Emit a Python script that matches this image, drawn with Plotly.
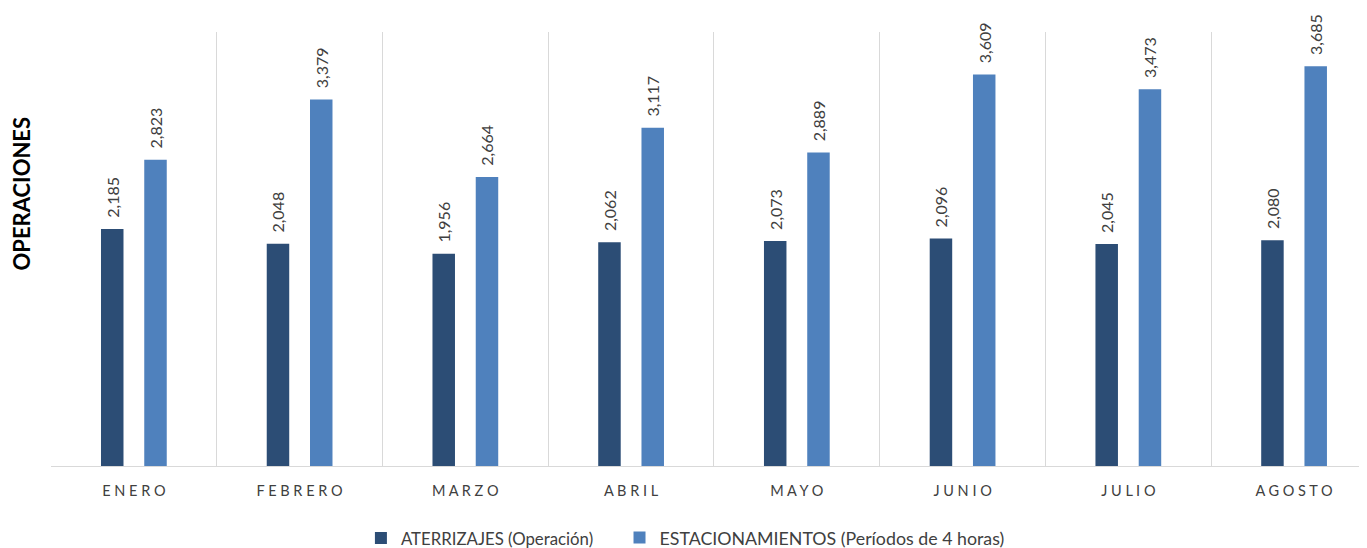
import plotly.graph_objects as go

months = ["ENERO", "FEBRERO", "MARZO", "ABRIL", "MAYO", "JUNIO", "JULIO", "AGOSTO"]
aterrizajes = [2185, 2048, 1956, 2062, 2073, 2096, 2045, 2080]
estacionamientos = [2823, 3379, 2664, 3117, 2889, 3609, 3473, 3685]
series_names = ["ATERRIZAJES (Operación)", "ESTACIONAMIENTOS (Períodos de 4 horas)"]
y_title = "OPERACIONES"

tick_text = [" ".join(list(m)) for m in months]
NB = "\u00a0\u00a0"

FONT = "Lato"
fig = go.Figure()
for name, vals, col, lg in [(series_names[0], aterrizajes, "#2C4D75", "legend"),
                            (series_names[1], estacionamientos, "#4F81BD", "legend2")]:
    fig.add_trace(go.Bar(
        x=months, y=vals, name=name, marker=dict(color=col, line=dict(width=0)),
        text=[NB + f"{v:,}" for v in vals], textposition="outside", textangle=-90,
        textfont=dict(family=FONT, size=16, color="#404040"),
        constraintext="none", cliponaxis=False, legend=lg,
    ))

leg_common = dict(orientation="h", yanchor="middle", y=-0.166, xanchor="left",
                  bgcolor="rgba(0,0,0,0)")

fig.update_layout(
    width=1367, height=548,
    margin=dict(l=43, r=8, t=24, b=90, autoexpand=False),
    paper_bgcolor="white", plot_bgcolor="white",
    barmode="group", bargap=0.478, bargroupgap=0.48,
    font=dict(family=FONT, color="#404040"),
    showlegend=True,
    legend=dict(x=0.2355, font=dict(family=FONT, size=16.8, color="#404040"), **leg_common),
    legend2=dict(x=0.4320, font=dict(family=FONT, size=17.8, color="#404040"), **leg_common),
    xaxis=dict(
        tickmode="array", tickvals=months, ticktext=tick_text,
        range=[-0.5, 7.44], tickson="boundaries", ticks="",
        showgrid=True, gridcolor="#D9D9D9", gridwidth=1,
        showline=True, linecolor="#D9D9D9", linewidth=1,
        tickfont=dict(family=FONT, size=14.5, color="#404040"),
        ticklabelstandoff=12, automargin=False,
    ),
    yaxis=dict(
        range=[0, 4000], showgrid=False, showticklabels=False, zeroline=False,
        automargin=False,
    ),
    annotations=[dict(
        text="<b>" + y_title + "</b>", textangle=-90, showarrow=False,
        xref="paper", yref="paper", x=-0.0228, y=0.628,
        xanchor="center", yanchor="middle",
        font=dict(family=FONT, size=22, color="#000000"),
    )],
)

fig.write_html("out.html")
